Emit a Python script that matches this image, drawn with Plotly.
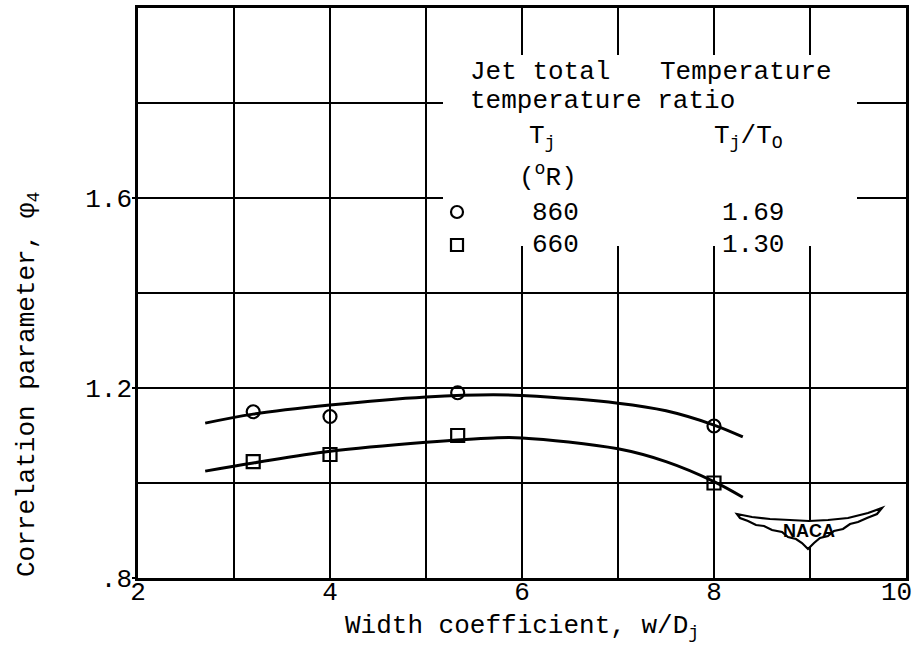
import plotly.graph_objects as go

# ---------------- data ----------------
w_circle = [3.2, 4.0, 5.33, 8.0]
phi_circle = [1.15, 1.14, 1.19, 1.12]

w_square = [3.2, 4.0, 5.33, 8.0]
phi_square = [1.045, 1.06, 1.10, 1.0]

# faired curves
w_fair_860 = [2.7, 3.2, 4.0, 5.0, 5.7, 6.0, 7.0, 7.5, 8.0, 8.3]
phi_fair_860 = [1.126, 1.145, 1.164, 1.181, 1.186, 1.184, 1.168, 1.152, 1.122, 1.097]

w_fair_660 = [2.7, 3.2, 4.0, 5.0, 5.7, 6.0, 7.0, 7.5, 8.0, 8.3]
phi_fair_660 = [1.025, 1.042, 1.067, 1.086, 1.095, 1.095, 1.072, 1.045, 1.003, 0.97]

x_tickvals = [2, 4, 6, 8]
x_ticktext = ["2", "4", "6", "8"]
x_last_tick = "10"          # drawn as a note, nudged inside the page edge
x_gridvals = [3, 5, 7, 9]
y_tickvals = [0.8, 1.2, 1.6]
y_ticktext = [".8", "1.2", "1.6"]
y_gridvals = [1.0, 1.4, 1.8]

legend_temps = ["860", "660"]
legend_ratios = ["1.69", "1.30"]

# ---------------- layout helpers ----------------
W, H = 919, 653
L, R, T, B = 138, 13, 8, 75
XR = [2, 10]
YR = [0.8, 2.0]
FONT = "Liberation Mono, Courier New, monospace"
FS = 26
INK = "#000000"


def px2x(px):
    return XR[0] + (px - L) / (W - L - R) * (XR[1] - XR[0])


def px2y(py):
    return YR[0] + (H - B - py) / (H - T - B) * (YR[1] - YR[0])


fig = go.Figure()

fig.add_trace(go.Scatter(x=w_fair_860, y=phi_fair_860, mode="lines",
                         line=dict(color=INK, width=3, shape="spline", smoothing=1.0),
                         showlegend=False, hoverinfo="skip"))
fig.add_trace(go.Scatter(x=w_fair_660, y=phi_fair_660, mode="lines",
                         line=dict(color=INK, width=3, shape="spline", smoothing=1.0),
                         showlegend=False, hoverinfo="skip"))
fig.add_trace(go.Scatter(x=w_circle, y=phi_circle, mode="markers",
                         marker=dict(symbol="circle-open", size=13, color=INK,
                                     line=dict(width=2.2, color=INK)),
                         showlegend=False))
fig.add_trace(go.Scatter(x=w_square, y=phi_square, mode="markers",
                         marker=dict(symbol="square-open", size=13, color=INK,
                                     line=dict(width=2.2, color=INK)),
                         showlegend=False))

shapes = []
# white patch behind the key table (hides the grid)
shapes.append(dict(type="rect", layer="between", xref="x", yref="y",
                   x0=px2x(443), x1=px2x(857), y0=px2y(246), y1=px2y(55),
                   fillcolor="white", line=dict(width=0)))

# key symbols
shapes.append(dict(type="circle", xref="x", yref="y", xsizemode="pixel", ysizemode="pixel",
                   xanchor=px2x(457), yanchor=px2y(212), x0=-6, x1=6, y0=-6, y1=6,
                   line=dict(color=INK, width=2.2), fillcolor="white"))
shapes.append(dict(type="rect", xref="x", yref="y", xsizemode="pixel", ysizemode="pixel",
                   xanchor=px2x(457), yanchor=px2y(245), x0=-6, x1=6, y0=-6, y1=6,
                   line=dict(color=INK, width=2.2), fillcolor="white"))

# NACA logo outline (decoration)
logo_px = [(737, 514), (752, 517), (770, 519), (790, 520), (809, 521), (828, 520),
           (848, 518), (868, 513), (882, 508), (877, 514), (867, 518), (858, 522),
           (850, 524), (843, 529), (834, 531), (828, 536), (820, 538), (814, 543),
           (808, 549), (802, 543), (796, 539), (788, 537), (782, 532), (772, 530),
           (764, 526), (756, 525), (748, 521), (740, 518)]
path = "M " + " L ".join(f"{px2x(a):.4f},{px2y(b):.4f}" for a, b in logo_px) + " Z"
shapes.append(dict(type="path", path=path, xref="x", yref="y",
                   line=dict(color=INK, width=2.2), fillcolor="white"))

annotations = []


def txt(text, px, py, xanchor="center", size=FS, font=FONT):
    annotations.append(dict(text=text, x=px2x(px), y=px2y(py), xref="x", yref="y",
                            xanchor=xanchor, yanchor="middle", showarrow=False,
                            font=dict(family=font, size=size, color=INK)))


txt("Jet total", 468, 72, "left")
txt("Temperature", 658, 72, "left")
txt("temperature ratio", 468, 101, "left")
txt("T<sub>j</sub>", 542, 137)
txt("T<sub>j</sub>/T<sub>O</sub>", 748, 137)
txt("(<sup>o</sup>R)", 548, 176)
for i, (t, r) in enumerate(zip(legend_temps, legend_ratios)):
    yy = 213 + 32 * i
    txt(t, 555, yy)
    txt(r, 753, yy)

txt("<b>NACA</b>", 809, 531, size=18, font="Liberation Sans, Arial, sans-serif")

# last x tick label, nudged left so it stays on the page
annotations.append(dict(text=x_last_tick, xref="paper", yref="paper",
                        x=(896 - L) / (W - L - R), y=(H - B - 593) / (H - T - B),
                        xanchor="center", yanchor="middle", showarrow=False,
                        font=dict(family=FONT, size=FS, color=INK)))

# axis titles
annotations.append(dict(text="Correlation parameter, φ<sub>4</sub>", xref="paper", yref="paper",
                        x=(28 - L) / (W - L - R), y=(H - B - 385) / (H - T - B),
                        xanchor="center", yanchor="middle", textangle=-90, showarrow=False,
                        font=dict(family=FONT, size=FS, color=INK)))
annotations.append(dict(text="Width coefficient, w/D<sub>j</sub>", xref="paper", yref="paper",
                        x=0.5, y=(H - B - 627) / (H - T - B),
                        xanchor="center", yanchor="middle", showarrow=False,
                        font=dict(family=FONT, size=FS, color=INK)))

fig.update_layout(
    width=W, height=H,
    margin=dict(l=L, r=R, t=T, b=B, pad=0, autoexpand=False),
    paper_bgcolor="white", plot_bgcolor="white",
    shapes=shapes, annotations=annotations,
    font=dict(family=FONT, size=FS, color=INK),
    showlegend=False,
)
fig.update_xaxes(range=XR, tickvals=x_tickvals, ticktext=x_ticktext,
                 showgrid=True, gridcolor=INK, gridwidth=2, zeroline=False,
                 showline=True, linecolor=INK, linewidth=2.5, mirror=True,
                 ticks="", automargin=False, ticklabelstandoff=-12,
                 ticklabeloverflow="allow",
                 minor=dict(tickvals=x_gridvals, showgrid=True, gridcolor=INK, gridwidth=2, ticks=""),
                 tickfont=dict(family=FONT, size=FS, color=INK))
fig.update_yaxes(range=YR, tickvals=y_tickvals, ticktext=y_ticktext,
                 showgrid=True, gridcolor=INK, gridwidth=2, zeroline=False,
                 showline=True, linecolor=INK, linewidth=2.5, mirror=True,
                 ticks="outside", ticklen=3, tickcolor=INK, tickwidth=2,
                 automargin=False, ticklabelstandoff=-5, ticklabeloverflow="allow",
                 minor=dict(tickvals=y_gridvals, showgrid=True, gridcolor=INK, gridwidth=2, ticks=""),
                 tickfont=dict(family=FONT, size=FS, color=INK))

fig.write_html("out.html", config={"displayModeBar": False},
               post_script="document.body.style.margin='0';")
